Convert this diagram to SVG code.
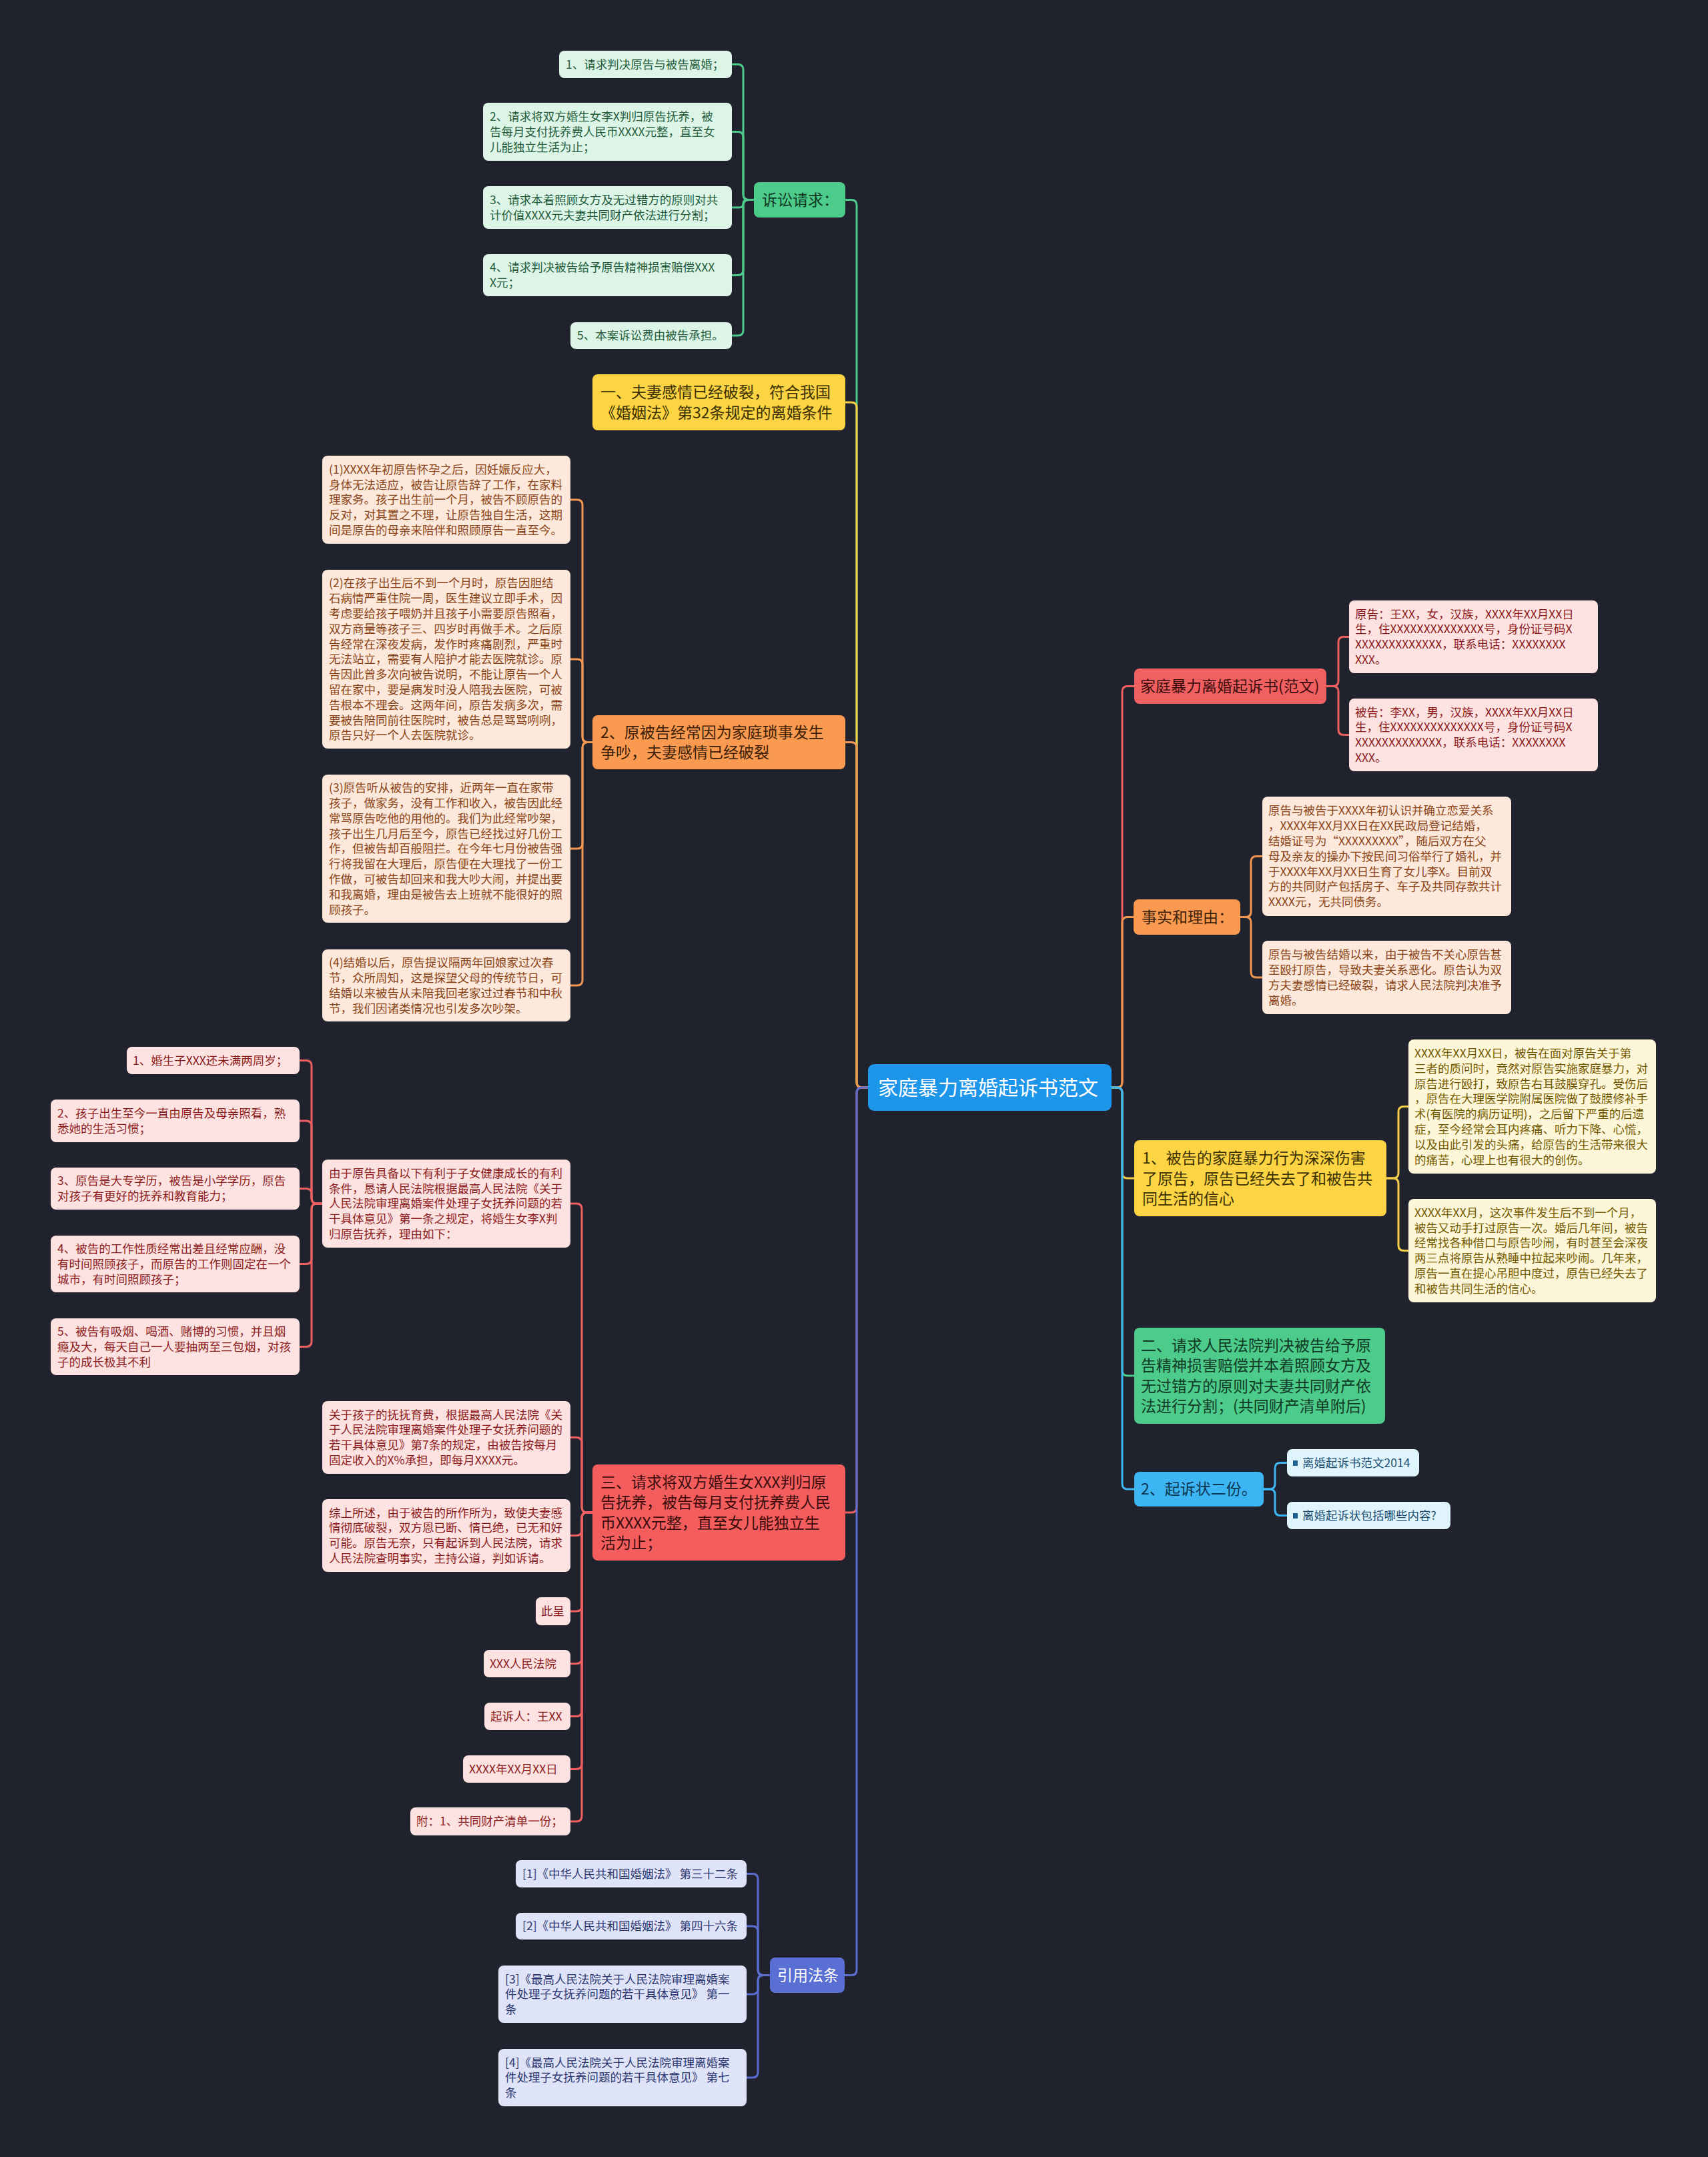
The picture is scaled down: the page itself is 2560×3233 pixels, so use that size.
<svg xmlns="http://www.w3.org/2000/svg" width="2560" height="3233" viewBox="0 0 2560 3233">
<style>
.ln{fill:none;stroke-width:3;stroke-linecap:round;stroke-linejoin:round}
.tx{font-family:"Noto Sans CJK SC","Noto Sans",sans-serif}
.sm{font-size:17.5px}
.mn{font-size:23px}
.cG{stroke:#4ccb8a}.cY{stroke:#f5cf45}.cO{stroke:#f39650}.cR{stroke:#ee6060}.cP{stroke:#5b6dcf}.cB{stroke:#3cb5f2}
.fG{fill:#4ccb8a}.fY{fill:#fcd444}.fO{fill:#f99a50}.fR{fill:#f35d5d}.fP{fill:#5a6fd3}.fB{fill:#3cb5f2}
.lG{fill:#dcf5e7}.lO{fill:#fde9dc}.lR{fill:#fde2e2}.lP{fill:#dfe3f7}.lY{fill:#fdf6d8}.lB{fill:#e0f4fc}
.tG{fill:#255c3c}.tO{fill:#8a4316}.tR{fill:#8c1c1c}.tP{fill:#2b3670}.tY{fill:#735a00}.tB{fill:#1d4e72}
.mG{fill:#103a25}.mY{fill:#3b3000}.mO{fill:#3d2008}.mR{fill:#3d0d0d}.mB{fill:#0c3652}.mW{fill:#ffffff}
</style>
<rect x="0" y="0" width="2560" height="3233" fill="#20232e"/>

<g id="connectors">
<path class="ln cG" d="M1301 1630 H1292 Q1284 1630 1284 1622 V307.5 Q1284 299.5 1276 299.5 H1267"/>
<path class="ln cY" d="M1301 1630 H1292 Q1284 1630 1284 1622 V611 Q1284 603 1276 603 H1267"/>
<path class="ln cO" d="M1301 1630 H1292 Q1284 1630 1284 1622 V1120.5 Q1284 1112.5 1276 1112.5 H1267"/>
<path class="ln cR" d="M1301 1630 H1292 Q1284 1630 1284 1638 V2259 Q1284 2267 1276 2267 H1267"/>
<path class="ln cP" d="M1301 1630 H1292 Q1284 1630 1284 1638 V2952.5 Q1284 2960.5 1276 2960.5 H1266"/>
<path class="ln cR" d="M1666 1630 H1674 Q1682 1630 1682 1622 V1036.5 Q1682 1028.5 1690 1028.5 H1700"/>
<path class="ln cO" d="M1666 1630 H1674 Q1682 1630 1682 1622 V1382.5 Q1682 1374.5 1690 1374.5 H1699"/>
<path class="ln cY" d="M1666 1630 H1674 Q1682 1630 1682 1638 V1758 Q1682 1766 1690 1766 H1700"/>
<path class="ln cG" d="M1666 1630 H1674 Q1682 1630 1682 1638 V2054 Q1682 2062 1690 2062 H1700"/>
<path class="ln cB" d="M1666 1630 H1674 Q1682 1630 1682 1638 V2224 Q1682 2232 1690 2232 H1700"/>

<path class="ln cG" d="M1130 299.5 H1122 Q1114 299.5 1114 291.5 V104.5 Q1114 96.5 1106 96.5 H1097"/>
<path class="ln cG" d="M1130 299.5 H1122 Q1114 299.5 1114 291.5 V205.5 Q1114 197.5 1106 197.5 H1097"/>
<path class="ln cG" d="M1130 299.5 H1120 Q1114 299.5 1114 305 Q1114 311 1108 311 H1097"/>
<path class="ln cG" d="M1130 299.5 H1122 Q1114 299.5 1114 307.5 V404.5 Q1114 412.5 1106 412.5 H1097"/>
<path class="ln cG" d="M1130 299.5 H1122 Q1114 299.5 1114 307.5 V495 Q1114 503 1106 503 H1097"/>

<path class="ln cO" d="M888 1112.5 H881 Q873 1112.5 873 1104.5 V757 Q873 749 865 749 H855"/>
<path class="ln cO" d="M888 1112.5 H881 Q873 1112.5 873 1104.5 V996 Q873 988 865 988 H855"/>
<path class="ln cO" d="M888 1112.5 H881 Q873 1112.5 873 1120.5 V1264 Q873 1272 865 1272 H855"/>
<path class="ln cO" d="M888 1112.5 H881 Q873 1112.5 873 1120.5 V1469 Q873 1477 865 1477 H855"/>

<path class="ln cR" d="M888 2267 H880 Q872 2267 872 2259 V1812 Q872 1804 864 1804 H855"/>
<path class="ln cR" d="M888 2267 H880 Q872 2267 872 2259 V2162.5 Q872 2154.5 864 2154.5 H855"/>
<path class="ln cR" d="M888 2267 H880 Q872 2267 872 2275 V2293.5 Q872 2301.5 864 2301.5 H855"/>
<path class="ln cR" d="M888 2267 H880 Q872 2267 872 2275 V2407 Q872 2415 864 2415 H855"/>
<path class="ln cR" d="M888 2267 H880 Q872 2267 872 2275 V2485.5 Q872 2493.5 864 2493.5 H855"/>
<path class="ln cR" d="M888 2267 H880 Q872 2267 872 2275 V2564.5 Q872 2572.5 864 2572.5 H855"/>
<path class="ln cR" d="M888 2267 H880 Q872 2267 872 2275 V2643.5 Q872 2651.5 864 2651.5 H855"/>
<path class="ln cR" d="M888 2267 H880 Q872 2267 872 2275 V2722 Q872 2730 864 2730 H855"/>

<path class="ln cR" d="M483 1804 H475 Q467 1804 467 1796 V1597.5 Q467 1589.5 459 1589.5 H449"/>
<path class="ln cR" d="M483 1804 H475 Q467 1804 467 1796 V1688 Q467 1680 459 1680 H449"/>
<path class="ln cR" d="M483 1804 H475 Q467 1804 467 1796 V1789.5 Q467 1781.5 459 1781.5 H449"/>
<path class="ln cR" d="M483 1804 H475 Q467 1804 467 1812 V1886.5 Q467 1894.5 459 1894.5 H449"/>
<path class="ln cR" d="M483 1804 H475 Q467 1804 467 1812 V2010.5 Q467 2018.5 459 2018.5 H449"/>

<path class="ln cP" d="M1154 2960.5 H1144 Q1136 2960.5 1136 2952.5 V2816.5 Q1136 2808.5 1128 2808.5 H1119"/>
<path class="ln cP" d="M1154 2960.5 H1144 Q1136 2960.5 1136 2952.5 V2895 Q1136 2887 1128 2887 H1119"/>
<path class="ln cP" d="M1154 2960.5 H1144 Q1136 2960.5 1136 2968.5 V2981 Q1136 2989 1128 2989 H1119"/>
<path class="ln cP" d="M1154 2960.5 H1144 Q1136 2960.5 1136 2968.5 V3106 Q1136 3114 1128 3114 H1119"/>

<path class="ln cR" d="M1988 1028.5 H1998 Q2006 1028.5 2006 1020.5 V962.5 Q2006 954.5 2014 954.5 H2022"/>
<path class="ln cR" d="M1988 1028.5 H1998 Q2006 1028.5 2006 1036.5 V1093.5 Q2006 1101.5 2014 1101.5 H2022"/>

<path class="ln cO" d="M1859 1374.5 H1867 Q1875 1374.5 1875 1366.5 V1291.5 Q1875 1283.5 1883 1283.5 H1892"/>
<path class="ln cO" d="M1859 1374.5 H1867 Q1875 1374.5 1875 1382.5 V1457 Q1875 1465 1883 1465 H1892"/>

<path class="ln cY" d="M2078 1766 H2088 Q2096 1766 2096 1758 V1666.5 Q2096 1658.5 2104 1658.5 H2111"/>
<path class="ln cY" d="M2078 1766 H2088 Q2096 1766 2096 1774 V1866.5 Q2096 1874.5 2104 1874.5 H2111"/>

<path class="ln cB" d="M1894 2232 H1903 Q1911 2232 1911 2224 V2200.5 Q1911 2192.5 1919 2192.5 H1929"/>
<path class="ln cB" d="M1894 2232 H1903 Q1911 2232 1911 2240 V2263.5 Q1911 2271.5 1919 2271.5 H1929"/>
</g>

<g id="n-center">
<rect x="1301" y="1595" width="365" height="70" rx="9" fill="#1d95e8"/>
<text class="tx mW" x="1316" y="1641" font-size="30">家庭暴力离婚起诉书范文</text>
</g>

<g id="n-ss">
<rect class="fG" x="1130" y="273" width="137" height="53" rx="8"/>
<text class="tx mn mG" x="1142" y="308">诉讼请求：</text>
</g>
<g id="n-ss1">
<rect class="lG" x="838" y="76" width="259" height="41" rx="8"/>
<text class="tx sm tG" x="848" y="103">1、请求判决原告与被告离婚；</text>
</g>
<g id="n-ss2">
<rect class="lG" x="724" y="154" width="373" height="87" rx="8"/>
<text class="tx sm tG" x="734" y="181"><tspan x="734">2、请求将双方婚生女李X判归原告抚养，被</tspan><tspan x="734" dy="22.8">告每月支付抚养费人民币XXXX元整，直至女</tspan><tspan x="734" dy="22.8">儿能独立生活为止；</tspan></text>
</g>
<g id="n-ss3">
<rect class="lG" x="724" y="279" width="373" height="64" rx="8"/>
<text class="tx sm tG" x="734" y="305.9"><tspan x="734">3、请求本着照顾女方及无过错方的原则对共</tspan><tspan x="734" dy="22.8">计价值XXXX元夫妻共同财产依法进行分割；</tspan></text>
</g>
<g id="n-ss4">
<rect class="lG" x="724" y="381" width="373" height="63" rx="8"/>
<text class="tx sm tG" x="734" y="407.4"><tspan x="734">4、请求判决被告给予原告精神损害赔偿XXX</tspan><tspan x="734" dy="22.8">X元；</tspan></text>
</g>
<g id="n-ss5">
<rect class="lG" x="855" y="483" width="242" height="40" rx="8"/>
<text class="tx sm tG" x="865" y="509.3">5、本案诉讼费由被告承担。</text>
</g>

<g id="n-b1">
<rect class="fY" x="888" y="561" width="379" height="84" rx="8"/>
<text class="tx mn mY" x="900" y="596"><tspan x="900">一、夫妻感情已经破裂，符合我国</tspan><tspan x="900" dy="30.5">《婚姻法》第32条规定的离婚条件</tspan></text>
</g>

<g id="n-b2">
<rect class="fO" x="888" y="1072" width="379" height="81" rx="8"/>
<text class="tx mn mO" x="900" y="1105.5"><tspan x="900">2、原被告经常因为家庭琐事发生</tspan><tspan x="900" dy="30.5">争吵，夫妻感情已经破裂</tspan></text>
</g>
<g id="n-b2c1">
<rect class="lO" x="483" y="683" width="372" height="132" rx="8"/>
<text class="tx sm tO" x="493" y="709.7"><tspan x="493">(1)XXXX年初原告怀孕之后，因妊娠反应大，</tspan><tspan x="493" dy="22.8">身体无法适应，被告让原告辞了工作，在家料</tspan><tspan x="493" dy="22.8">理家务。孩子出生前一个月，被告不顾原告的</tspan><tspan x="493" dy="22.8">反对，对其置之不理，让原告独自生活，这期</tspan><tspan x="493" dy="22.8">间是原告的母亲来陪伴和照顾原告一直至今。</tspan></text>
</g>
<g id="n-b2c2">
<rect class="lO" x="483" y="854" width="372" height="268" rx="8"/>
<text class="tx sm tO" x="493" y="880.3"><tspan x="493">(2)在孩子出生后不到一个月时，原告因胆结</tspan><tspan x="493" dy="22.8">石病情严重住院一周，医生建议立即手术，因</tspan><tspan x="493" dy="22.8">考虑要给孩子喂奶并且孩子小需要原告照看，</tspan><tspan x="493" dy="22.8">双方商量等孩子三、四岁时再做手术。之后原</tspan><tspan x="493" dy="22.8">告经常在深夜发病，发作时疼痛剧烈，严重时</tspan><tspan x="493" dy="22.8">无法站立，需要有人陪护才能去医院就诊。原</tspan><tspan x="493" dy="22.8">告因此曾多次向被告说明，不能让原告一个人</tspan><tspan x="493" dy="22.8">留在家中，要是病发时没人陪我去医院，可被</tspan><tspan x="493" dy="22.8">告根本不理会。这两年间，原告发病多次，需</tspan><tspan x="493" dy="22.8">要被告陪同前往医院时，被告总是骂骂咧咧，</tspan><tspan x="493" dy="22.8">原告只好一个人去医院就诊。</tspan></text>
</g>
<g id="n-b2c3">
<rect class="lO" x="483" y="1161" width="372" height="222" rx="8"/>
<text class="tx sm tO" x="493" y="1187.1"><tspan x="493">(3)原告听从被告的安排，近两年一直在家带</tspan><tspan x="493" dy="22.8">孩子，做家务，没有工作和收入，被告因此经</tspan><tspan x="493" dy="22.8">常骂原告吃他的用他的。我们为此经常吵架，</tspan><tspan x="493" dy="22.8">孩子出生几月后至今，原告已经找过好几份工</tspan><tspan x="493" dy="22.8">作，但被告却百般阻拦。在今年七月份被告强</tspan><tspan x="493" dy="22.8">行将我留在大理后，原告便在大理找了一份工</tspan><tspan x="493" dy="22.8">作做，可被告却回来和我大吵大闹，并提出要</tspan><tspan x="493" dy="22.8">和我离婚，理由是被告去上班就不能很好的照</tspan><tspan x="493" dy="22.8">顾孩子。</tspan></text>
</g>
<g id="n-b2c4">
<rect class="lO" x="483" y="1423" width="372" height="108" rx="8"/>
<text class="tx sm tO" x="493" y="1449.1"><tspan x="493">(4)结婚以后，原告提议隔两年回娘家过次春</tspan><tspan x="493" dy="22.8">节，众所周知，这是探望父母的传统节日，可</tspan><tspan x="493" dy="22.8">结婚以来被告从未陪我回老家过过春节和中秋</tspan><tspan x="493" dy="22.8">节，我们因诸类情况也引发多次吵架。</tspan></text>
</g>

<g id="n-b3">
<rect class="fR" x="888" y="2195" width="379" height="144" rx="8"/>
<text class="tx mn mR" x="900" y="2229.5"><tspan x="900">三、请求将双方婚生女XXX判归原</tspan><tspan x="900" dy="30.5">告抚养，被告每月支付抚养费人民</tspan><tspan x="900" dy="30.5">币XXXX元整，直至女儿能独立生</tspan><tspan x="900" dy="30.5">活为止；</tspan></text>
</g>
<g id="n-b3c1">
<rect class="lR" x="483" y="1738" width="372" height="132" rx="8"/>
<text class="tx sm tR" x="493" y="1764.7"><tspan x="493">由于原告具备以下有利于子女健康成长的有利</tspan><tspan x="493" dy="22.8">条件，恳请人民法院根据最高人民法院《关于</tspan><tspan x="493" dy="22.8">人民法院审理离婚案件处理子女抚养问题的若</tspan><tspan x="493" dy="22.8">干具体意见》第一条之规定，将婚生女李X判</tspan><tspan x="493" dy="22.8">归原告抚养，理由如下：</tspan></text>
</g>
<g id="n-pl1">
<rect class="lR" x="190" y="1569" width="259" height="41" rx="8"/>
<text class="tx sm tR" x="199" y="1595.8">1、婚生子XXX还未满两周岁；</text>
</g>
<g id="n-pl2">
<rect class="lR" x="76" y="1648" width="373" height="64" rx="8"/>
<text class="tx sm tR" x="86" y="1674.9"><tspan x="86">2、孩子出生至今一直由原告及母亲照看，熟</tspan><tspan x="86" dy="22.8">悉她的生活习惯；</tspan></text>
</g>
<g id="n-pl3">
<rect class="lR" x="76" y="1750" width="373" height="63" rx="8"/>
<text class="tx sm tR" x="86" y="1776.4"><tspan x="86">3、原告是大专学历，被告是小学学历，原告</tspan><tspan x="86" dy="22.8">对孩子有更好的抚养和教育能力；</tspan></text>
</g>
<g id="n-pl4">
<rect class="lR" x="76" y="1852" width="373" height="85" rx="8"/>
<text class="tx sm tR" x="86" y="1878"><tspan x="86">4、被告的工作性质经常出差且经常应酬，没</tspan><tspan x="86" dy="22.8">有时间照顾孩子，而原告的工作则固定在一个</tspan><tspan x="86" dy="22.8">城市，有时间照顾孩子；</tspan></text>
</g>
<g id="n-pl5">
<rect class="lR" x="76" y="1976" width="373" height="85" rx="8"/>
<text class="tx sm tR" x="86" y="2002"><tspan x="86">5、被告有吸烟、喝酒、赌博的习惯，并且烟</tspan><tspan x="86" dy="22.8">瘾及大，每天自己一人要抽两至三包烟，对孩</tspan><tspan x="86" dy="22.8">子的成长极其不利</tspan></text>
</g>
<g id="n-b3c2">
<rect class="lR" x="483" y="2100" width="372" height="109" rx="8"/>
<text class="tx sm tR" x="493" y="2126.6"><tspan x="493">关于孩子的抚抚育费，根据最高人民法院《关</tspan><tspan x="493" dy="22.8">于人民法院审理离婚案件处理子女抚养问题的</tspan><tspan x="493" dy="22.8">若干具体意见》第7条的规定，由被告按每月</tspan><tspan x="493" dy="22.8">固定收入的X%承担，即每月XXXX元。</tspan></text>
</g>
<g id="n-b3c3">
<rect class="lR" x="483" y="2247" width="372" height="109" rx="8"/>
<text class="tx sm tR" x="493" y="2273.6"><tspan x="493">综上所述，由于被告的所作所为，致使夫妻感</tspan><tspan x="493" dy="22.8">情彻底破裂，双方恩已断、情已绝，已无和好</tspan><tspan x="493" dy="22.8">可能。原告无奈，只有起诉到人民法院，请求</tspan><tspan x="493" dy="22.8">人民法院查明事实，主持公道，判如诉请。</tspan></text>
</g>
<g id="n-b3c4">
<rect class="lR" x="803" y="2394" width="52" height="42" rx="8"/>
<text class="tx sm tR" x="811" y="2421.3">此呈</text>
</g>
<g id="n-b3c5">
<rect class="lR" x="725" y="2473" width="130" height="41" rx="8"/>
<text class="tx sm tR" x="734" y="2499.8">XXX人民法院</text>
</g>
<g id="n-b3c6">
<rect class="lR" x="726" y="2552" width="129" height="41" rx="8"/>
<text class="tx sm tR" x="735" y="2578.8">起诉人：王XX</text>
</g>
<g id="n-b3c7">
<rect class="lR" x="694" y="2631" width="161" height="41" rx="8"/>
<text class="tx sm tR" x="703" y="2657.8">XXXX年XX月XX日</text>
</g>
<g id="n-b3c8">
<rect class="lR" x="615" y="2709" width="240" height="42" rx="8"/>
<text class="tx sm tR" x="624" y="2736.3">附：1、共同财产清单一份；</text>
</g>

<g id="n-law">
<rect class="fP" x="1154" y="2934" width="112" height="53" rx="8"/>
<text class="tx mn mW" x="1165" y="2969">引用法条</text>
</g>
<g id="n-law1">
<rect class="lP" x="773" y="2788" width="346" height="41" rx="8"/>
<text class="tx sm tP" x="783" y="2814.8">[1]《中华人民共和国婚姻法》 第三十二条</text>
</g>
<g id="n-law2">
<rect class="lP" x="773" y="2867" width="346" height="40" rx="8"/>
<text class="tx sm tP" x="783" y="2893.3">[2]《中华人民共和国婚姻法》 第四十六条</text>
</g>
<g id="n-law3">
<rect class="lP" x="747" y="2946" width="372" height="86" rx="8"/>
<text class="tx sm tP" x="757" y="2972.5"><tspan x="757">[3]《最高人民法院关于人民法院审理离婚案</tspan><tspan x="757" dy="22.8">件处理子女抚养问题的若干具体意见》 第一</tspan><tspan x="757" dy="22.8">条</tspan></text>
</g>
<g id="n-law4">
<rect class="lP" x="747" y="3071" width="372" height="86" rx="8"/>
<text class="tx sm tP" x="757" y="3097.5"><tspan x="757">[4]《最高人民法院关于人民法院审理离婚案</tspan><tspan x="757" dy="22.8">件处理子女抚养问题的若干具体意见》 第七</tspan><tspan x="757" dy="22.8">条</tspan></text>
</g>

<g id="n-r1">
<rect x="1700" y="1002" width="288" height="53" rx="8" fill="#f06060"/>
<text class="tx mn mR" x="1709" y="1037">家庭暴力离婚起诉书(范文)</text>
</g>
<g id="n-r1c1">
<rect class="lR" x="2022" y="900" width="373" height="109" rx="8"/>
<text class="tx sm tR" x="2031" y="926.6"><tspan x="2031">原告：王XX，女，汉族，XXXX年XX月XX日</tspan><tspan x="2031" dy="22.8">生，住XXXXXXXXXXXXXX号，身份证号码X</tspan><tspan x="2031" dy="22.8">XXXXXXXXXXXXX，联系电话：XXXXXXXX</tspan><tspan x="2031" dy="22.8">XXX。</tspan></text>
</g>
<g id="n-r1c2">
<rect class="lR" x="2022" y="1047" width="373" height="109" rx="8"/>
<text class="tx sm tR" x="2031" y="1073.6"><tspan x="2031">被告：李XX，男，汉族，XXXX年XX月XX日</tspan><tspan x="2031" dy="22.8">生，住XXXXXXXXXXXXXX号，身份证号码X</tspan><tspan x="2031" dy="22.8">XXXXXXXXXXXXX，联系电话：XXXXXXXX</tspan><tspan x="2031" dy="22.8">XXX。</tspan></text>
</g>

<g id="n-r2">
<rect class="fO" x="1699" y="1348" width="160" height="53" rx="8"/>
<text class="tx mn mO" x="1711" y="1383">事实和理由：</text>
</g>
<g id="n-r2c1">
<rect class="lO" x="1892" y="1194" width="373" height="179" rx="8"/>
<text class="tx sm tO" x="1901" y="1221.4"><tspan x="1901">原告与被告于XXXX年初认识并确立恋爱关系</tspan><tspan x="1901" dy="22.8">，XXXX年XX月XX日在XX民政局登记结婚，</tspan><tspan x="1901" dy="22.8">结婚证号为“XXXXXXXXX”，随后双方在父</tspan><tspan x="1901" dy="22.8">母及亲友的操办下按民间习俗举行了婚礼，并</tspan><tspan x="1901" dy="22.8">于XXXX年XX月XX日生育了女儿李X。目前双</tspan><tspan x="1901" dy="22.8">方的共同财产包括房子、车子及共同存款共计</tspan><tspan x="1901" dy="22.8">XXXX元，无共同债务。</tspan></text>
</g>
<g id="n-r2c2">
<rect class="lO" x="1892" y="1410" width="373" height="110" rx="8"/>
<text class="tx sm tO" x="1901" y="1437.1"><tspan x="1901">原告与被告结婚以来，由于被告不关心原告甚</tspan><tspan x="1901" dy="22.8">至殴打原告，导致夫妻关系恶化。原告认为双</tspan><tspan x="1901" dy="22.8">方夫妻感情已经破裂，请求人民法院判决准予</tspan><tspan x="1901" dy="22.8">离婚。</tspan></text>
</g>

<g id="n-r3">
<rect class="fY" x="1700" y="1709" width="378" height="114" rx="8"/>
<text class="tx mn mY" x="1712" y="1744"><tspan x="1712">1、被告的家庭暴力行为深深伤害</tspan><tspan x="1712" dy="30.5">了原告，原告已经失去了和被告共</tspan><tspan x="1712" dy="30.5">同生活的信心</tspan></text>
</g>
<g id="n-r3c1">
<rect class="lY" x="2111" y="1558" width="371" height="201" rx="8"/>
<text class="tx sm tY" x="2120" y="1585"><tspan x="2120">XXXX年XX月XX日，被告在面对原告关于第</tspan><tspan x="2120" dy="22.8">三者的质问时，竟然对原告实施家庭暴力，对</tspan><tspan x="2120" dy="22.8">原告进行殴打，致原告右耳鼓膜穿孔。受伤后</tspan><tspan x="2120" dy="22.8">，原告在大理医学院附属医院做了鼓膜修补手</tspan><tspan x="2120" dy="22.8">术(有医院的病历证明)，之后留下严重的后遗</tspan><tspan x="2120" dy="22.8">症，至今经常会耳内疼痛、听力下降、心慌，</tspan><tspan x="2120" dy="22.8">以及由此引发的头痛，给原告的生活带来很大</tspan><tspan x="2120" dy="22.8">的痛苦，心理上也有很大的创伤。</tspan></text>
</g>
<g id="n-r3c2">
<rect class="lY" x="2111" y="1797" width="371" height="155" rx="8"/>
<text class="tx sm tY" x="2120" y="1823.8"><tspan x="2120">XXXX年XX月，这次事件发生后不到一个月，</tspan><tspan x="2120" dy="22.8">被告又动手打过原告一次。婚后几年间，被告</tspan><tspan x="2120" dy="22.8">经常找各种借口与原告吵闹，有时甚至会深夜</tspan><tspan x="2120" dy="22.8">两三点将原告从熟睡中拉起来吵闹。几年来，</tspan><tspan x="2120" dy="22.8">原告一直在提心吊胆中度过，原告已经失去了</tspan><tspan x="2120" dy="22.8">和被告共同生活的信心。</tspan></text>
</g>

<g id="n-r4">
<rect class="fG" x="1700" y="1990" width="376" height="144" rx="8"/>
<text class="tx mn mG" x="1710" y="2024.5"><tspan x="1710">二、请求人民法院判决被告给予原</tspan><tspan x="1710" dy="30.5">告精神损害赔偿并本着照顾女方及</tspan><tspan x="1710" dy="30.5">无过错方的原则对夫妻共同财产依</tspan><tspan x="1710" dy="30.5">法进行分割；(共同财产清单附后)</tspan></text>
</g>

<g id="n-r5">
<rect class="fB" x="1700" y="2206" width="194" height="52" rx="8"/>
<text class="tx mn mB" x="1710" y="2240">2、起诉状二份。</text>
</g>
<g id="n-r5c1">
<rect class="lB" x="1929" y="2172" width="198" height="41" rx="8"/>
<rect x="1938" y="2189" width="7" height="8" fill="#1d5f8f"/>
<text class="tx sm tB" x="1952" y="2198.8">离婚起诉书范文2014</text>
</g>
<g id="n-r5c2">
<rect class="lB" x="1929" y="2251" width="245" height="41" rx="8"/>
<rect x="1938" y="2268" width="7" height="8" fill="#1d5f8f"/>
<text class="tx sm tB" x="1952" y="2277.8">离婚起诉状包括哪些内容?</text>
</g>
</svg>
